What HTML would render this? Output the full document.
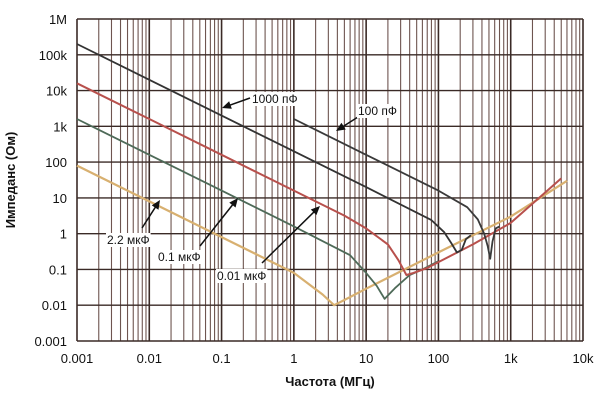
<!DOCTYPE html>
<html><head><meta charset="utf-8"><style>
body{margin:0;background:#fff;}
svg{display:block;font-family:"Liberation Sans","Noto Sans CJK SC",sans-serif;}
</style></head><body>
<svg id="c" width="600" height="400"></svg>
<script>
const xTicks=[0.001,0.01,0.1,1,10,100,1000,10000];
const xTickLabels=["0.001","0.01","0.1","1","10","100","1k","10k"];
const yTicks=[0.001,0.01,0.1,1,10,100,1000,10000,100000,1000000];
const yTickLabels=["0.001","0.01","0.1","1","10","100","1k","10k","100k","1M"];
const darkF=[0.001,0.01,0.1,1,10,80,120,150,180,210,240,280];
const darkZ=[200000,20000,2000,200,20,2.4,1.1,0.55,0.3,0.35,0.7,0.9];
const pf100F=[1,10,100,250,350,430,480,520,560,620,700];
const pf100Z=[1600,160,16,5.5,2.5,1.0,0.45,0.2,0.6,1.4,1.6];
const redF=[0.001,0.01,0.1,1,5,10,20,28,36,45,70,100,300,1000,5000];
const redZ=[16000,1600,160,16,3.2,1.4,0.5,0.18,0.07,0.08,0.11,0.16,0.5,2,35];
const greenF=[0.001,0.01,0.1,1,6,10,14,18,25,40,60,100];
const greenZ=[1600,160,16,1.6,0.25,0.08,0.035,0.015,0.03,0.07,0.1,0.17];
const yellowF=[0.001,0.01,0.1,1,2.5,3.6,5,10,100,1000,6000];
const yellowZ=[80,8,0.8,0.08,0.02,0.01,0.014,0.029,0.3,3,30];
const L=77,R=583,T=19,B=341;
function X(f){return L+(Math.log10(f)+3)*(R-L)/7;}
function Y(z){return T+(6-Math.log10(z))*(B-T)/9;}
const svg=document.getElementById('c');
const NS='http://www.w3.org/2000/svg';
function mk(t,a,p){const e=document.createElementNS(NS,t);for(const k in a)e.setAttribute(k,a[k]);(p||svg).appendChild(e);return e;}
for(let d=-3;d<4;d++){for(let m=1;m<=9;m++){const f=m*Math.pow(10,d);
const ln=mk('line',{x1:X(f),x2:X(f),y1:T,y2:B,stroke:m==1?'#3a2a26':'#6e5550','stroke-width':m==1?1.6:1.1});

}}
yTicks.forEach((v,i)=>{const ln=mk('line',{x1:L,x2:R,y1:Y(v),y2:Y(v),stroke:'#3a2a26','stroke-width':1.4});


const t=mk('text',{x:L-10,y:Y(v)+5,'text-anchor':'end','font-size':13,fill:'#111'});t.textContent=yTickLabels[i];

});
mk('line',{x1:R,x2:R,y1:T,y2:B,stroke:'#3a2a26','stroke-width':1.6});
xTicks.forEach((v,i)=>{const t=mk('text',{x:X(v),y:B+22,'text-anchor':'middle','font-size':13,fill:'#111'});t.textContent=xTickLabels[i];

});
function series(F,Z,col,w,name){const d=F.map((f,i)=>(i?'L':'M')+X(f).toFixed(1)+','+Y(Z[i]).toFixed(1)).join(' ');
const p=mk('path',{d:d,fill:'none',stroke:col,'stroke-width':w,'stroke-linejoin':'round'});

}
series(yellowF,yellowZ,'#d8b070',2.2,'series-2-2uf');
series(greenF,greenZ,'#4e6a58',1.8,'series-0-1uf');
series(redF,redZ,'#b8504c',2,'series-0-01uf');
series(darkF,darkZ,'#333',1.8,'series-1000pf');
series(pf100F,pf100Z,'#3a3a3a',1.8,'series-100pf');
function label(txt,x,y,ax1,ay1,ax2,ay2,name){
const a=Math.atan2(ay2-ay1,ax2-ax1),h=9;
mk('line',{x1:ax1,y1:ay1,x2:ax2-Math.cos(a)*h*0.8,y2:ay2-Math.sin(a)*h*0.8,stroke:'#111','stroke-width':1.5});
mk('polygon',{points:`${ax2},${ay2} ${ax2-h*Math.cos(a)+4*Math.sin(a)},${ay2-h*Math.sin(a)-4*Math.cos(a)} ${ax2-h*Math.cos(a)-4*Math.sin(a)},${ay2-h*Math.sin(a)+4*Math.cos(a)}`,fill:'#111'});
const t=mk('text',{x:x,y:y,'font-size':12,fill:'#111'});t.textContent=txt;
const bb=t.getBBox();const r=mk('rect',{x:bb.x-1,y:bb.y,width:bb.width+2,height:bb.height,fill:'#fff'});svg.insertBefore(r,t);

}
label('1000 пФ',252,103,250,98,222,108,'label-1000pf');
label('100 пФ',358,115,358,117,336,131,'label-100pf');
label('2.2 мкФ',107,244,142,228,160,200,'label-2-2uf');
label('0.1 мкФ',158,261,200,246,238,198,'label-0-1uf');
label('0.01 мкФ',217,280,262,263,320,206,'label-0-01uf');
const yt=mk('text',{x:0,y:0,'font-size':13,'font-weight':'bold',fill:'#111','text-anchor':'middle',transform:'translate(15,180) rotate(-90)'});yt.textContent='Импеданс (Ом)';


const xt=mk('text',{x:330,y:386,'font-size':13,'font-weight':'bold',fill:'#111','text-anchor':'middle'});xt.textContent='Частота (МГц)';


</script>
</body></html>
